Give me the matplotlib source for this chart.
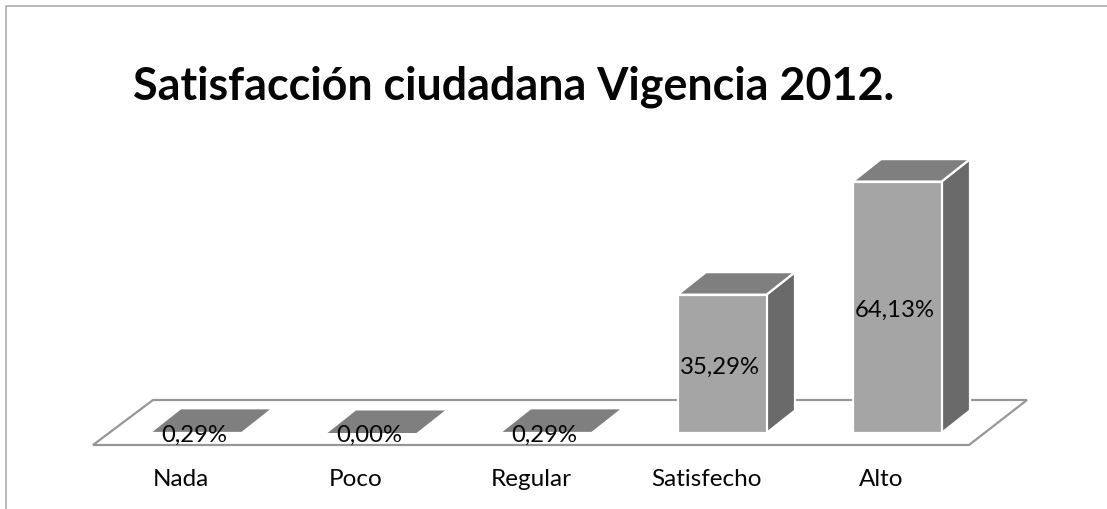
import matplotlib
matplotlib.use("Agg")
import matplotlib.pyplot as plt
from matplotlib.patches import Polygon
from matplotlib.lines import Line2D

plt.rcParams['font.family'] = ['Lato', 'DejaVu Sans']

title = "Satisfacción ciudadana Vigencia 2012."
categories = ["Nada", "Poco", "Regular", "Satisfecho", "Alto"]
values = [0.29, 0.00, 0.29, 35.29, 64.13]
value_labels = ["0,29%", "0,00%", "0,29%", "35,29%", "64,13%"]

W, H = 1107, 509
fig = plt.figure(figsize=(W / 100, H / 100), dpi=100, facecolor='white')
ax = fig.add_axes([0, 0, 1, 1])
ax.axis('off')

# scales: category step 175 px, first centre at 197 px; 3.92 px per percent, zero at y=433 px
PX_X, X0 = 175.0, 197.0
PX_Y, Y0 = 3.92, 433.0
ax.set_xlim((0 - X0) / PX_X, (W - X0) / PX_X)
ax.set_ylim((Y0 - H) / PX_Y, Y0 / PX_Y)

bar_w = 89 / PX_X
dx = 28.5 / PX_X
dy = 22.5 / PX_Y
FRONT, TOP, SIDE = '#a5a5a5', '#7f7f7f', '#6a6a6a'
FLOOR = '#979797'

# floor
fx0, fx1 = (93 - X0) / PX_X, (969 - X0) / PX_X
fbx0, fbx1 = (153 - X0) / PX_X, (1027 - X0) / PX_X
fy0, fy1 = (Y0 - 445) / PX_Y, (Y0 - 400) / PX_Y
ax.add_patch(Polygon([(fx0, fy0), (fx1, fy0), (fbx1, fy1), (fbx0, fy1)], closed=True,
                     facecolor='white', edgecolor=FLOOR, linewidth=1.6, zorder=1))

for i, v in enumerate(values):
    l, r = i - bar_w / 2, i + bar_w / 2
    ec = dict(edgecolor='white', linewidth=1.6, joinstyle='miter', zorder=2)
    if v > 1:
        ax.add_patch(Polygon([(r, 0), (r + dx, dy), (r + dx, v + dy), (r, v)], closed=True, facecolor=SIDE, **ec))
        ax.add_patch(Polygon([(l, v), (r, v), (r + dx, v + dy), (l + dx, v + dy)], closed=True, facecolor=TOP, **ec))
        ax.add_patch(Polygon([(l, 0), (r, 0), (r, v), (l, v)], closed=True, facecolor=FRONT, **ec))
    else:
        ax.add_patch(Polygon([(l, v), (r, v), (r + dx, v + dy), (l + dx, v + dy)], closed=True,
                             facecolor=TOP, edgecolor='none', zorder=2))
    # value label: flat bars sit just below their top face
    ly = v / 2 - 0.9 if v > 1 else -0.65
    ax.text(i - 2.5 / PX_X, ly, value_labels[i], ha='center', va='center', fontsize=17.2, color='#050505', zorder=3)
    ax.text(i - 16 / PX_X, (Y0 - 480) / PX_Y, categories[i], ha='center', va='center', fontsize=17.5, color='#050505')

ax.text((133 - X0) / PX_X, (Y0 - 87) / PX_Y, title, ha='left', va='center', fontsize=32.3,
        fontweight='bold', color='#050505')

# outer frame, cropped at right and bottom
fig.add_artist(Line2D([6 / W, 6 / W, 1], [0, 1 - 5.5 / H, 1 - 5.5 / H], color='#a6a6a6', linewidth=1.1,
                      transform=fig.transFigure))

fig.savefig('out.png', dpi=100, facecolor='white')
